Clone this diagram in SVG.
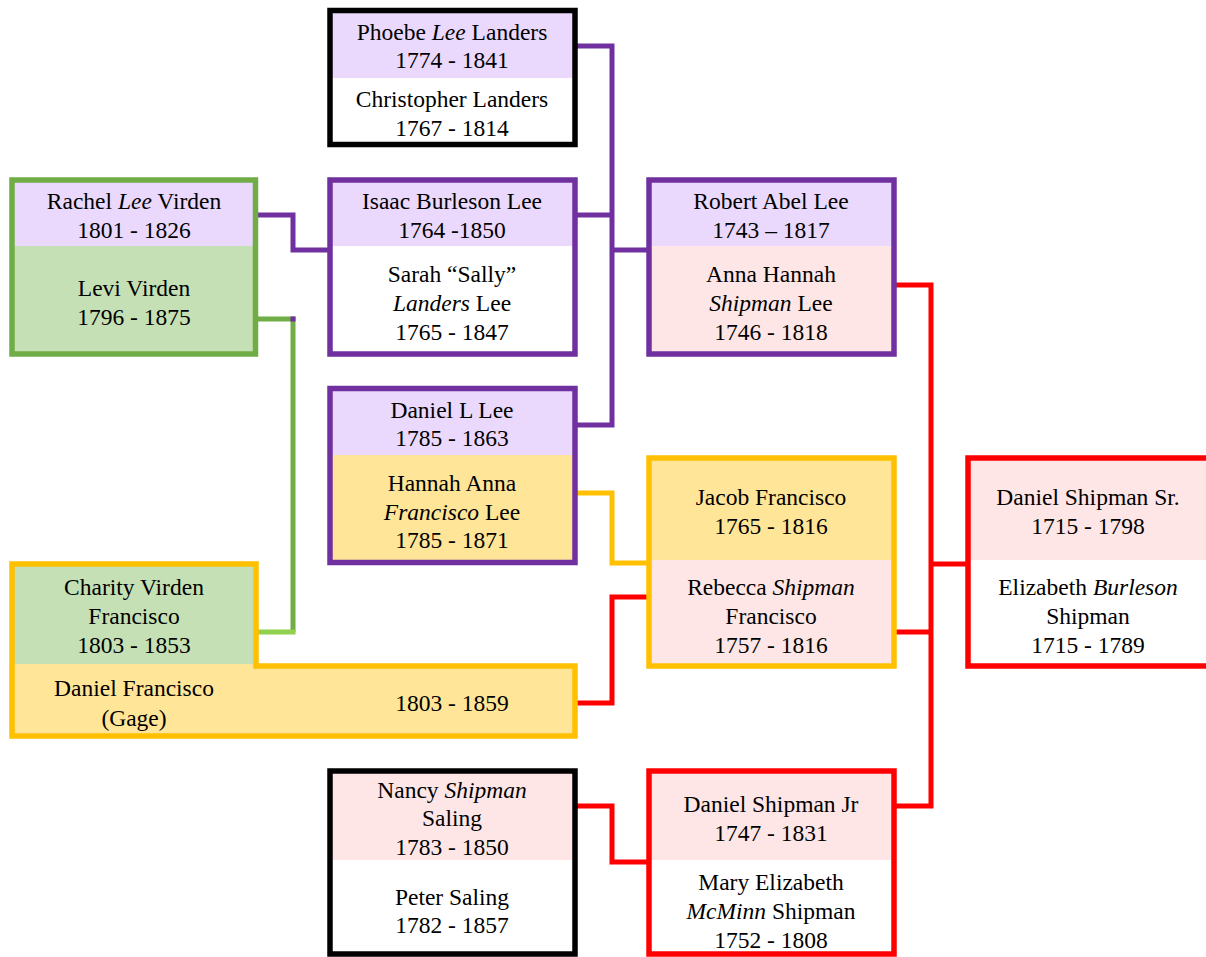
<svg xmlns="http://www.w3.org/2000/svg" width="1206" height="957" viewBox="0 0 1206 957">
<rect width="1206" height="957" fill="#fff"/>
<g id="connectors" fill="none" stroke-width="5">
<path stroke="#7030A0" d="M575,46 H612 V425 H575"/>
<path stroke="#7030A0" d="M575,215 H612"/>
<path stroke="#7030A0" d="M612,250 H650"/>
<path stroke="#7030A0" d="M256,215 H293 V250 H330"/>
<path stroke="#70AD47" d="M256,319 H293 V632"/>
<rect x="290.5" y="316.5" width="5" height="5" fill="#7030A0" stroke="none"/>
<path stroke="#92D050" d="M256,632 H295.5"/>
<path stroke="#FFC000" d="M575,493 H612 V563 H650"/>
<path stroke="#FF0000" d="M575,703 H612 V597 H650"/>
<path stroke="#FF0000" d="M894,285 H931 V806 H894"/>
<path stroke="#FF0000" d="M931,564 H968"/>
<path stroke="#FF0000" d="M894,632 H931"/>
<path stroke="#FF0000" d="M575,806 H612 V862 H650"/>
</g>
<g id="phoebe-christopher">
<rect fill="#EAD8FD" x="330" y="10" width="245" height="68"/>
<rect fill="#fff" x="330" y="78" width="245" height="67"/>
<rect fill="none" stroke="#000" stroke-width="5.5" x="330" y="10.5" width="245" height="134"/>
<text font-family="Liberation Serif" font-size="23.5" text-anchor="middle" x="452" y="40">Phoebe <tspan font-style="italic">Lee</tspan> Landers</text>
<text font-family="Liberation Serif" font-size="23.5" text-anchor="middle" x="452" y="68">1774 - 1841</text>
<text font-family="Liberation Serif" font-size="23.5" text-anchor="middle" x="452" y="107">Christopher Landers</text>
<text font-family="Liberation Serif" font-size="23.5" text-anchor="middle" x="452" y="136">1767 - 1814</text>
</g>
<g id="rachel-levi">
<rect fill="#EAD8FD" x="12" y="180" width="244" height="66"/>
<rect fill="#C5E0B4" x="12" y="246" width="244" height="108"/>
<rect fill="none" stroke="#70AD47" stroke-width="5.5" x="12" y="180" width="243.5" height="174"/>
<text font-family="Liberation Serif" font-size="23.5" text-anchor="middle" x="134" y="209">Rachel <tspan font-style="italic">Lee</tspan> Virden</text>
<text font-family="Liberation Serif" font-size="23.5" text-anchor="middle" x="134" y="238">1801 - 1826</text>
<text font-family="Liberation Serif" font-size="23.5" text-anchor="middle" x="134" y="296">Levi Virden</text>
<text font-family="Liberation Serif" font-size="23.5" text-anchor="middle" x="134" y="325">1796 - 1875</text>
</g>
<g id="isaac-sarah">
<rect fill="#EAD8FD" x="330" y="180" width="245" height="66"/>
<rect fill="#fff" x="330" y="246" width="245" height="108"/>
<rect fill="none" stroke="#7030A0" stroke-width="5.5" x="330" y="180" width="245" height="174"/>
<text font-family="Liberation Serif" font-size="23.5" text-anchor="middle" x="452" y="209">Isaac Burleson Lee</text>
<text font-family="Liberation Serif" font-size="23.5" text-anchor="middle" x="452" y="238">1764 -1850</text>
<text font-family="Liberation Serif" font-size="23.5" text-anchor="middle" x="452" y="282">Sarah “Sally”</text>
<text font-family="Liberation Serif" font-size="23.5" text-anchor="middle" x="452" y="311"><tspan font-style="italic">Landers</tspan> Lee</text>
<text font-family="Liberation Serif" font-size="23.5" text-anchor="middle" x="452" y="340">1765 - 1847</text>
</g>
<g id="robert-anna">
<rect fill="#EAD8FD" x="649" y="180" width="245" height="66"/>
<rect fill="#FEE6E6" x="649" y="246" width="245" height="108"/>
<rect fill="none" stroke="#7030A0" stroke-width="5.5" x="649" y="180" width="245" height="174"/>
<text font-family="Liberation Serif" font-size="23.5" text-anchor="middle" x="771" y="209">Robert Abel Lee</text>
<text font-family="Liberation Serif" font-size="23.5" text-anchor="middle" x="771" y="238">1743 – 1817</text>
<text font-family="Liberation Serif" font-size="23.5" text-anchor="middle" x="771" y="282">Anna Hannah</text>
<text font-family="Liberation Serif" font-size="23.5" text-anchor="middle" x="771" y="311"><tspan font-style="italic">Shipman</tspan> Lee</text>
<text font-family="Liberation Serif" font-size="23.5" text-anchor="middle" x="771" y="340">1746 - 1818</text>
</g>
<g id="daniel-hannah">
<rect fill="#EAD8FD" x="330" y="389" width="245" height="66"/>
<rect fill="#FFE597" x="330" y="455" width="245" height="108"/>
<rect fill="none" stroke="#7030A0" stroke-width="5.5" x="330" y="388.5" width="245" height="174"/>
<text font-family="Liberation Serif" font-size="23.5" text-anchor="middle" x="452" y="418">Daniel L Lee</text>
<text font-family="Liberation Serif" font-size="23.5" text-anchor="middle" x="452" y="446">1785 - 1863</text>
<text font-family="Liberation Serif" font-size="23.5" text-anchor="middle" x="452" y="491">Hannah Anna</text>
<text font-family="Liberation Serif" font-size="23.5" text-anchor="middle" x="452" y="520"><tspan font-style="italic">Francisco</tspan> Lee</text>
<text font-family="Liberation Serif" font-size="23.5" text-anchor="middle" x="452" y="548">1785 - 1871</text>
</g>
<g id="jacob-rebecca">
<rect fill="#FFE597" x="649" y="458" width="245" height="102"/>
<rect fill="#FEE6E6" x="649" y="560" width="245" height="106"/>
<rect fill="none" stroke="#FFC000" stroke-width="5.5" x="649" y="458" width="245" height="208"/>
<text font-family="Liberation Serif" font-size="23.5" text-anchor="middle" x="771" y="505">Jacob Francisco</text>
<text font-family="Liberation Serif" font-size="23.5" text-anchor="middle" x="771" y="534">1765 - 1816</text>
<text font-family="Liberation Serif" font-size="23.5" text-anchor="middle" x="771" y="595">Rebecca <tspan font-style="italic">Shipman</tspan></text>
<text font-family="Liberation Serif" font-size="23.5" text-anchor="middle" x="771" y="624">Francisco</text>
<text font-family="Liberation Serif" font-size="23.5" text-anchor="middle" x="771" y="653">1757 - 1816</text>
</g>
<g id="daniel-elizabeth-shipman">
<rect fill="#FEE6E6" x="968" y="458" width="245" height="102"/>
<rect fill="#fff" x="968" y="560" width="245" height="106"/>
<rect fill="none" stroke="#FF0000" stroke-width="5.5" x="968" y="458" width="245" height="208"/>
<text font-family="Liberation Serif" font-size="23.5" text-anchor="middle" x="1088" y="505">Daniel Shipman Sr.</text>
<text font-family="Liberation Serif" font-size="23.5" text-anchor="middle" x="1088" y="534">1715 - 1798</text>
<text font-family="Liberation Serif" font-size="23.5" text-anchor="middle" x="1088" y="595">Elizabeth <tspan font-style="italic">Burleson</tspan></text>
<text font-family="Liberation Serif" font-size="23.5" text-anchor="middle" x="1088" y="624">Shipman</text>
<text font-family="Liberation Serif" font-size="23.5" text-anchor="middle" x="1088" y="653">1715 - 1789</text>
</g>
<g id="charity-daniel-francisco">
<rect fill="#FFE597" x="12" y="664" width="563" height="72"/>
<rect fill="#C5E0B4" x="12" y="564" width="244" height="100"/>
<path fill="none" stroke="#FFC000" stroke-width="5.5" d="M12,564 H256 V666 H575 V736 H12 Z"/>
<text font-family="Liberation Serif" font-size="23.5" text-anchor="middle" x="134" y="595">Charity Virden</text>
<text font-family="Liberation Serif" font-size="23.5" text-anchor="middle" x="134" y="624">Francisco</text>
<text font-family="Liberation Serif" font-size="23.5" text-anchor="middle" x="134" y="653">1803 - 1853</text>
<text font-family="Liberation Serif" font-size="23.5" text-anchor="middle" x="134" y="696">Daniel Francisco</text>
<text font-family="Liberation Serif" font-size="23.5" text-anchor="middle" x="134" y="726">(Gage)</text>
<text font-family="Liberation Serif" font-size="23.5" text-anchor="middle" x="452" y="711">1803 - 1859</text>
</g>
<g id="nancy-peter">
<rect fill="#FEE6E6" x="330" y="771" width="245" height="89"/>
<rect fill="#fff" x="330" y="860" width="245" height="95"/>
<rect fill="none" stroke="#000" stroke-width="5.5" x="330" y="771" width="245" height="183"/>
<text font-family="Liberation Serif" font-size="23.5" text-anchor="middle" x="452" y="798">Nancy <tspan font-style="italic">Shipman</tspan></text>
<text font-family="Liberation Serif" font-size="23.5" text-anchor="middle" x="452" y="826">Saling</text>
<text font-family="Liberation Serif" font-size="23.5" text-anchor="middle" x="452" y="855">1783 - 1850</text>
<text font-family="Liberation Serif" font-size="23.5" text-anchor="middle" x="452" y="905">Peter Saling</text>
<text font-family="Liberation Serif" font-size="23.5" text-anchor="middle" x="452" y="933">1782 - 1857</text>
</g>
<g id="daniel-mary-shipman">
<rect fill="#FEE6E6" x="649" y="771" width="245" height="89"/>
<rect fill="#fff" x="649" y="860" width="245" height="95"/>
<rect fill="none" stroke="#FF0000" stroke-width="5.5" x="649" y="771" width="245" height="183"/>
<text font-family="Liberation Serif" font-size="23.5" text-anchor="middle" x="771" y="812">Daniel Shipman Jr</text>
<text font-family="Liberation Serif" font-size="23.5" text-anchor="middle" x="771" y="841">1747 - 1831</text>
<text font-family="Liberation Serif" font-size="23.5" text-anchor="middle" x="771" y="890">Mary Elizabeth</text>
<text font-family="Liberation Serif" font-size="23.5" text-anchor="middle" x="771" y="919"><tspan font-style="italic">McMinn</tspan> Shipman</text>
<text font-family="Liberation Serif" font-size="23.5" text-anchor="middle" x="771" y="948">1752 - 1808</text>
</g>
</svg>
